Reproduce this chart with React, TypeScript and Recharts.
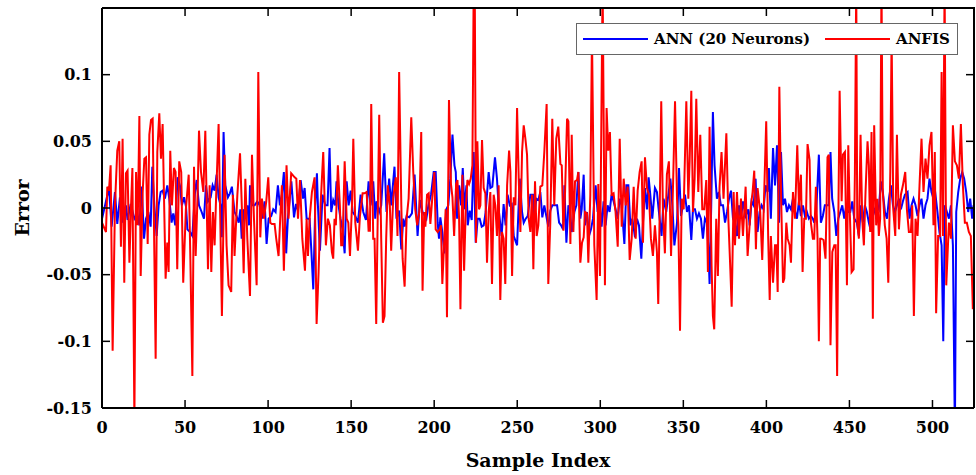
import React from "react";
import { LineChart, Line, XAxis, YAxis, Legend } from "recharts";

// [sample index, error] (turning points only)
const annPoints: [number, number][] = [
  [0, -0.008], [2.4, 0.005], [4.2, 0.015], [5.8, -0.014], [7.8, 0.012], [9.2, -0.012], [10.8, 0.008], [12.4, -0.011],
  [14.4, 0.002], [15.4, -0.009], [17.3, 0.003], [19.5, -0.008], [21.3, -0.004], [22.5, -0.013], [23.9, 0.016], [25.3, -0.023],
  [26.5, -0.008], [27.9, -0.003], [29.3, -0.014], [30.3, 0.031], [31.5, 0.002], [32.9, -0.021], [34.1, 0.002], [35.3, 0.012],
  [36.5, 0.013], [37.9, 0.007], [39.3, 0.017], [40.5, 0.007], [41.9, -0.011], [42.9, -0.004], [44.1, -0.013], [45.5, 0.023],
  [46.9, 0.017], [48.1, 0.002], [49.4, 0.008], [50.6, 0.001], [51.4, -0.016], [53, -0.018], [54.4, -0.021], [56, 0.012],
  [57, 0.021], [58.4, 0.002], [60, -0.003], [61.4, -0.008], [62.6, 0.017], [63.8, 0.005], [65.4, 0.008], [66.6, 0.017],
  [67.8, 0.013], [69, 0.025], [70.2, 0.008], [71.4, 0.002], [72.2, -0.022], [73.2, 0.057], [74.2, 0.017], [75.8, 0.008],
  [77, 0.011], [78.2, 0.016], [79.8, -0.003], [81, -0.006], [82.3, -0.011], [83.3, -0.001], [84.1, -0.023], [85.3, -0.001],
  [86.5, -0.006], [87.5, 0.002], [88.5, -0.013], [89.1, 0.017], [90.3, 0.002], [91.9, 0.002], [93.5, 0.005], [94.9, 0.002],
  [96.3, -0.008], [97.9, 0.005], [99.1, -0.027], [100.3, -0.008], [101.9, -0.006], [103.1, -0.001], [104.5, -0.003], [105.9, 0.017],
  [107.1, 0.002], [108.3, 0.01], [109.5, 0.027], [110.9, -0.034], [111.9, -0.008], [114, 0.02], [115.6, -0.007], [116.8, 0.003],
  [118, -0.002], [119.6, 0.021], [121, 0.007], [122, 0.015], [123.2, -0.008], [125, -0.008], [126, -0.031], [127.2, -0.061],
  [128.4, 0.002], [129.4, 0.026], [130, 0.002], [131.2, -0.032], [132.8, 0.01], [134.4, 0.002], [135.8, 0.002], [137, 0.045],
  [138, -0.003], [139.2, 0.006], [140.4, 0.002], [141.2, 0.02], [142.4, 0.002], [143.6, -0.008], [144.8, -0.016], [146.1, -0.034],
  [147.3, 0.02], [148.5, 0.002], [149.7, 0.013], [150.9, -0.003], [152.5, -0.006], [154.1, -0.011], [155.7, 0.01], [157.3, -0.003],
  [158.9, -0.009], [160.5, 0.02], [161.7, 0.002], [163.3, 0.02], [164.5, -0.008], [165.3, 0.005], [166.9, -0.003], [168.1, 0.002],
  [169.9, 0.041], [171.3, -0.003], [172.9, 0.022], [174.1, 0.002], [176.1, 0.031], [177.3, -0.008], [178.9, -0.002], [180.2, -0.031],
  [181.4, -0.008], [182.2, -0.014], [183.4, -0.006], [185, -0.007], [186.6, -0.004], [188.2, 0.025], [190, -0.021], [191.4, 0.006],
  [193, -0.003], [195.3, -0.008], [196.5, 0.002], [198.1, 0.01], [199.7, 0.027], [200.9, 0.027], [202.1, -0.011], [202.9, -0.023],
  [203.7, -0.007], [204.9, -0.018], [206.1, -0.034], [207.3, -0.001], [208.5, 0.002], [209.7, 0.022], [211, 0.055], [212.2, 0.032],
  [213, 0.027], [213.8, -0.008], [215, 0.017], [216.2, 0.002], [217.2, 0.03], [218.2, -0.001], [219.4, 0.017], [220.2, -0.013],
  [221.4, -0.002], [222.6, -0.009], [223.8, 0.042], [225, -0.026], [226.2, -0.008], [227.4, -0.008], [228.6, -0.014], [229.8, -0.013],
  [231, -0.003], [232.8, 0.027], [233.8, 0.015], [235, 0.016], [236.6, 0.038], [237.8, 0.022], [239, -0.003], [240.6, -0.021],
  [241.8, 0.003], [243, -0.013], [244.2, 0.01], [245.5, 0.002], [246.7, 0.003], [247.9, -0.021], [249.9, -0.028], [251.5, 0.022],
  [252.9, -0.003], [253.9, -0.011], [255.1, -0.008], [256.3, -0.006], [257.9, 0.01], [259.5, 0.01], [260.3, -0.007], [261.5, 0.007],
  [262.7, 0.006], [263.9, 0.012], [265.1, -0.007], [266.3, 0.002], [267.5, -0.006], [268.7, -0.014], [269.9, -0.002], [271.1, 0.002],
  [272.7, 0.002], [274, 0.002], [275.2, -0.011], [276.4, -0.013], [277.6, -0.016], [278.4, 0.017], [279.6, -0.026], [280.8, 0.002],
  [281.8, -0.003], [282.8, -0.018], [284.4, -0.003], [285.6, 0.002], [286.8, 0.027], [288, -0.008], [288.8, -0.001], [290, 0.025],
  [290.8, -0.013], [292, -0.003], [293.2, -0.021], [294.4, -0.016], [295.6, -0.008], [297.2, 0.017], [298.4, -0.003], [299.8, 0.002],
  [300.8, -0.014], [302, 0.005], [303.2, -0.013], [304.4, 0.002], [305.6, -0.003], [306.8, 0.01], [308, 0.005], [309.2, -0.001],
  [310.5, -0.008], [311.7, 0.007], [312.9, 0.002], [314.5, -0.027], [315.7, 0.017], [316.9, 0.017], [318.1, -0.013], [319.3, -0.008],
  [320.9, -0.022], [322.1, -0.008], [323.3, -0.013], [324.7, -0.038], [325.7, -0.011], [326.9, 0.015], [328.1, -0.001], [329.1, 0.023],
  [330.1, 0.01], [331.3, -0.008], [332.9, 0.015], [334.1, 0.012], [335.3, -0.003], [336.9, -0.021], [338.1, 0.007], [339.7, -0.003],
  [341, 0.01], [342.2, 0.022], [343.4, 0.002], [344.6, -0.028], [346.2, -0.011], [347.4, 0.03], [348.6, -0.006], [349.8, 0.002],
  [351, 0.01], [352.2, -0.003], [353.4, 0.002], [354.8, -0.024], [355.8, -0.001], [357, -0.001], [358.2, -0.008], [359.4, -0.004],
  [360.6, -0.008], [361.8, -0.023], [363, -0.008], [364.2, -0.011], [365, -0.028], [365.8, -0.057], [366.8, 0.002], [367.8, 0.072],
  [368.8, 0.032], [370.2, 0.007], [371.4, 0.012], [372.6, 0.002], [373.9, 0.002], [375.1, -0.011], [376.3, -0.003], [377.5, 0.007],
  [378.7, 0.013], [379.9, -0.008], [381.1, -0.011], [382.3, -0.021], [383.5, 0.002], [384.7, -0.008], [385.9, 0.005], [387.5, -0.006],
  [389.1, -0.001], [389.9, -0.013], [391.1, 0.005], [392.3, 0.002], [393.5, 0.022], [394.7, -0.018], [395.9, -0.003], [397.1, 0.002],
  [398.3, -0.001], [399.5, 0.017], [400.7, 0.012], [401.5, 0.03], [402.7, -0.008], [404, 0.045], [405.2, 0.017], [406.4, 0.047],
  [407.6, -0.011], [408.8, 0.042], [410, 0.002], [411.2, 0.007], [412.4, -0.003], [413.6, 0.002], [414.8, -0.001], [416, 0.007],
  [417.2, -0.002], [418.4, -0.008], [419.6, 0.005], [420.8, -0.006], [422, 0.002], [423.2, -0.006], [424.4, -0.003], [425.6, -0.008],
  [426.8, -0.006], [428, -0.008], [428.8, -0.011], [430, -0.003], [431.6, 0.04], [432.8, -0.011], [434, -0.006], [435.2, 0.002],
  [436.4, 0.002], [437.6, 0.002], [438.6, 0.042], [439.6, 0.007], [440.9, -0.003], [442.1, -0.021], [443.3, -0.008], [444.5, -0.003],
  [445.7, 0.002], [446.9, -0.008], [448.1, 0.002], [449.3, -0.003], [450.5, -0.003], [451.7, 0.005], [452.9, -0.008], [454.5, -0.011],
  [455.7, -0.021], [456.9, 0.002], [458.1, -0.011], [459.3, 0.002], [460.5, -0.003], [461.7, -0.011], [462.9, -0.017], [464.1, 0.002],
  [465.3, -0.003], [466.5, 0.002], [467.7, -0.001], [468.9, 0.02], [470.1, 0.012], [471.4, -0.003], [472.6, -0.008], [473.8, 0.007],
  [475, 0.017], [476.2, 0.002], [477.4, -0.003], [478.6, 0.002], [479.8, 0.007], [481, -0.001], [482.2, 0.005], [483.4, 0.01],
  [485, 0.012], [486.2, -0.008], [487.4, 0.002], [488.6, 0.007], [489.8, 0.002], [491, -0.006], [492.2, 0.002], [493.4, 0.007],
  [494.6, -0.008], [495.8, 0.002], [497, 0.007], [498.2, 0.022], [499.4, 0.012], [500.6, 0.007], [501.8, 0.01], [503, -0.003],
  [504.2, -0.018], [505.5, -0.028], [506.5, -0.1], [507.5, 0.002], [508.7, -0.003], [509.9, -0.008], [511.1, 0.002], [512.3, -0.028],
  [513.5, -0.17], [514.3, -0.003], [515.5, 0.012], [516.7, 0.022], [517.9, 0.027], [519.1, 0.022], [520.3, 0.012], [521.5, -0.003],
  [522.7, 0.007], [523.9, -0.008], [524.7, 0.002],
];

const anfisPoints: [number, number][] = [
  [0, -0.011], [2.4, -0.018], [3.2, 0.016], [4.2, 0.013], [5.2, 0.032], [6.4, -0.107], [7.8, 0.002], [9.2, 0.043],
  [10.4, 0.05], [11.4, -0.029], [12.4, 0.052], [13.4, -0.056], [14.4, 0.026], [15.4, 0.028], [16.5, -0.041], [17.5, 0.002],
  [18.3, 0.03], [19.5, -0.16], [20.5, 0.027], [21.5, -0.013], [22.5, 0.069], [23.3, -0.051], [24.5, 0.012], [25.5, 0.037],
  [26.5, 0.038], [27.5, -0.027], [28.5, 0.055], [29.5, 0.066], [30.5, 0.067], [32.3, -0.113], [33.3, 0.042], [34.5, 0.071],
  [35.5, 0.037], [36.5, 0.063], [37.5, -0.003], [38.3, -0.053], [39.3, -0.026], [40.1, -0.048], [41.1, 0.043], [42.1, 0.002],
  [43.3, 0.03], [44.3, 0.027], [45.3, -0.046], [46.5, 0.035], [47.7, 0.027], [48.9, -0.056], [50.5, -0.001], [52.2, 0.025],
  [53.2, -0.038], [54.4, -0.126], [55.4, 0.031], [56.4, -0.036], [57.6, 0.012], [58.4, 0.058], [59.6, 0.027], [61, 0.012],
  [62.2, 0.058], [63.8, -0.046], [64.8, 0.017], [65.8, -0.048], [66.8, -0.003], [67.8, -0.028], [68.8, 0.012], [70.2, 0.063],
  [71.2, -0.008], [72.2, -0.081], [73.8, 0.04], [75, -0.028], [76.2, -0.058], [77.8, -0.063], [78.8, 0.01], [79.8, -0.036],
  [81.5, 0.01], [83.1, 0.041], [84.3, -0.003], [85.3, -0.049], [86.3, 0.022], [87.5, -0.023], [89.1, -0.066], [90.3, 0.04],
  [91.5, -0.008], [93.1, -0.058], [94.1, 0.102], [95.3, -0.022], [96.3, 0.007], [97.5, -0.008], [98.9, 0.005], [100.1, 0.023],
  [101.3, -0.011], [102.3, -0.012], [103.9, -0.012], [104.9, -0.023], [106.3, -0.036], [107.3, -0.008], [108.3, 0.017], [109.5, -0.047],
  [111.1, 0.032], [112.3, -0.008], [113.9, 0.026], [116, 0.023], [117, 0.022], [118, -0.008], [119.2, 0.021], [120.6, -0.023],
  [122.2, -0.047], [123.2, -0.008], [124, -0.036], [125, -0.008], [126.4, 0.012], [128, 0.023], [129.2, -0.087], [130.4, -0.048],
  [131.6, 0.002], [133.2, 0.042], [134.8, -0.028], [136, -0.008], [137.2, -0.013], [138.4, -0.033], [139.2, -0.038], [140, -0.008],
  [140.8, -0.013], [142, 0.032], [143.2, 0.002], [144, -0.028], [144.8, -0.028], [146.1, 0.035], [147.3, -0.008], [148.3, -0.011],
  [149.3, -0.036], [150.5, 0.002], [151.3, 0.052], [152.5, -0.011], [154.1, -0.032], [155.3, -0.006], [156.9, 0.011], [158.1, 0.011],
  [159.3, 0.012], [160.5, -0.017], [161.3, -0.017], [162.1, 0.078], [163.3, -0.023], [164.1, -0.023], [165.1, -0.087], [166.1, 0.002],
  [166.9, 0.07], [168.1, -0.023], [169.1, -0.086], [170.1, -0.081], [171.1, -0.023], [172.1, 0.017], [173.3, 0.002], [174.1, -0.032],
  [175.3, 0.007], [176.9, 0.023], [177.9, -0.021], [178.9, 0.102], [180.2, 0.002], [181, -0.038], [182.2, -0.059], [183.4, -0.008],
  [184.6, 0.007], [186.2, 0.068], [187.4, 0.027], [188.6, -0.001], [189.8, -0.013], [191, -0.003], [192.2, 0.057], [193, -0.062],
  [194, -0.003], [194.7, -0.014], [195.7, 0.01], [196.7, 0.011], [197.7, -0.012], [198.7, 0.005], [200.1, 0.027], [200.9, -0.016],
  [202.1, -0.018], [203.3, -0.016], [204.1, -0.013], [204.9, -0.057], [206.1, -0.023], [206.9, -0.001], [207.7, -0.082], [208.9, 0.081],
  [210.1, 0.018], [211, 0.008], [212, -0.021], [213.2, 0.018], [214, 0.021], [215, -0.008], [215.8, -0.076], [217, 0.025],
  [218, -0.047], [219, -0.001], [220, 0.021], [221, 0.018], [222, 0.022], [223, 0.032], [223.8, 0.17], [224.4, 0.17],
  [225.2, -0.026], [226, 0.05], [227, -0.001], [227.8, 0.002], [228.8, 0.051], [229.8, 0.015], [230.8, 0.011], [231.8, -0.041],
  [232.8, -0.003], [233.8, 0.012], [234.8, -0.057], [235.8, 0.01], [236.8, 0.002], [237.8, -0.021], [238.8, 0.017], [239.8, -0.069],
  [240.8, -0.018], [241.8, -0.023], [242.8, -0.057], [243.9, 0.017], [245.1, 0.043], [245.9, 0.027], [246.9, -0.051], [247.9, 0.008],
  [248.9, 0.002], [249.9, 0.075], [250.9, 0.022], [251.9, -0.018], [252.9, 0.042], [253.9, 0.062], [254.9, 0.052], [255.9, 0.04],
  [256.9, -0.008], [257.9, -0.018], [258.9, 0.01], [259.7, -0.046], [260.7, 0.02], [261.7, -0.021], [262.7, -0.013], [263.9, 0.016],
  [265.1, 0.017], [266.3, 0.042], [267.7, 0.078], [268.7, -0.057], [269.9, -0.011], [271.1, 0.067], [272.3, 0.002], [273.5, 0.052],
  [274.7, 0.061], [276, 0.033], [276.8, 0.032], [277.8, -0.017], [278.8, 0.012], [280, 0.067], [280.8, 0.065], [282, -0.027],
  [282.8, 0.055], [283.8, -0.018], [284.8, 0.02], [286, 0.021], [286.8, 0.027], [288, -0.041], [289, -0.026], [290, -0.022],
  [290.8, -0.003], [292, -0.004], [292.8, -0.041], [294, 0.01], [295, 0.13], [296.4, -0.028], [297.8, -0.069], [298.8, 0.018],
  [299.8, -0.051], [301.4, 0.17], [302.8, -0.058], [303.8, 0.075], [304.8, 0.043], [305.8, 0.057], [306.8, 0.01], [308, 0.011],
  [309.2, -0.003], [310.5, -0.029], [311.7, 0.052], [312.9, -0.014], [314.1, 0.022], [315.3, 0.002], [316.5, 0.016], [317.7, -0.039],
  [318.9, -0.023], [320.1, 0.016], [321.3, -0.023], [322.5, 0.013], [323.7, 0.027], [324.9, 0.035], [325.7, -0.026], [326.9, 0.038],
  [328.1, 0.015], [329.3, 0.01], [330.5, -0.023], [331.7, -0.036], [332.9, -0.013], [334.1, -0.033], [334.9, -0.072], [335.7, -0.008],
  [336.7, 0.08], [337.7, -0.001], [338.9, -0.034], [340.1, 0.025], [341.3, 0.035], [342.6, -0.036], [343.8, 0.017], [345, 0.08],
  [346.2, 0.007], [347, -0.013], [348, -0.092], [349, 0.007], [350.2, -0.001], [351.8, 0.08], [353, 0.007], [353.8, 0.035],
  [354.8, 0.088], [355.8, -0.003], [356.8, 0.022], [357.8, 0.082], [359, 0.012], [360.2, 0.055], [361.4, -0.001], [362.6, -0.001],
  [363.8, 0.021], [364.8, -0.048], [365.8, 0.061], [367, -0.043], [367.8, -0.081], [368.6, -0.091], [369.8, -0.008], [370.8, -0.051],
  [371.8, 0.016], [373, 0.042], [374.2, 0.007], [375.9, 0.056], [377.1, -0.008], [378.3, -0.046], [379.1, -0.074], [380.3, 0.012],
  [381.1, -0.028], [382.3, 0.012], [383.5, -0.023], [384.7, 0.007], [385.9, -0.021], [387.5, 0.016], [388.7, -0.036], [390.7, 0.002],
  [391.7, 0.012], [392.7, 0.028], [393.7, -0.031], [394.7, 0.015], [396.3, -0.003], [397.5, -0.039], [398.7, 0.012], [399.9, 0.065],
  [401.1, -0.023], [402, -0.069], [402.7, -0.021], [404, -0.056], [405.2, -0.028], [406, -0.028], [406.8, -0.063], [407.8, 0.091],
  [408.8, 0.012], [410, -0.056], [410.8, -0.053], [412, -0.011], [412.8, -0.023], [414, -0.028], [414.8, -0.041], [416, 0.012],
  [417.2, -0.008], [418.6, 0.047], [419.6, 0.002], [420.8, 0.025], [421.8, -0.048], [422.8, -0.008], [423.8, -0.008], [424.8, 0.048],
  [426, 0.036], [426.8, -0.011], [428, -0.023], [428.8, -0.023], [429.8, 0.016], [430.8, -0.023], [431.6, -0.1], [432.4, -0.023],
  [433.2, -0.023], [434.4, -0.024], [435.6, -0.038], [436.8, 0.038], [437.6, 0.04], [438.6, -0.103], [439.7, -0.033], [440.9, -0.028],
  [441.7, -0.028], [442.6, -0.126], [443.3, -0.011], [444.1, 0.088], [445.3, 0.005], [446.1, 0.04], [447.3, 0.042], [448.5, -0.058],
  [449.3, 0.047], [450.1, 0.002], [451.3, -0.048], [452.5, -0.046], [453.3, 0.027], [454.1, 0.17], [454.7, -0.011], [455.7, -0.023],
  [456.7, 0.055], [457.7, -0.008], [458.7, -0.028], [459.7, 0.012], [460.9, 0.05], [461.7, 0.032], [462.5, -0.018], [463.3, 0.057],
  [464.1, -0.083], [464.9, 0.062], [466.1, -0.013], [466.9, 0.007], [467.7, -0.021], [468.5, -0.008], [469.3, 0.17], [470.1, 0.012],
  [471.3, -0.013], [472.4, -0.023], [473.4, -0.056], [474.6, 0.027], [475.4, 0.13], [476.4, -0.001], [477.6, -0.021], [478.6, 0.055],
  [479.8, -0.016], [481, 0.01], [482.2, 0.017], [483.6, 0.027], [484.6, -0.001], [485.8, -0.018], [487, -0.018], [487.8, 0.002],
  [488.8, -0.081], [489.8, -0.008], [491, -0.021], [492.2, 0.017], [493.4, 0.052], [494.6, 0.012], [495.8, 0.037], [497, 0.022],
  [498.2, 0.047], [499.4, 0.057], [500.6, -0.013], [501.4, 0.042], [502.2, -0.079], [503.4, -0.021], [504.6, -0.021], [505.5, 0.102],
  [506.3, -0.021], [507.3, 0.17], [508.3, -0.058], [509.9, -0.011], [511.1, -0.023], [512.3, 0.062], [513.5, 0.035], [514.7, 0.032],
  [515.9, 0.022], [517.1, 0.063], [518.3, 0.017], [519.5, -0.011], [520.7, -0.011], [521.9, -0.018], [523.1, -0.021], [524.3, -0.076],
];

const seriesNames = ["ANN (20 Neurons)", "ANFIS"];
const xDomain: [number, number] = [0, 525];
const yDomain: [number, number] = [-0.15, 0.15];
const xTicks = [0, 50, 100, 150, 200, 250, 300, 350, 400, 450, 500];
const yTicks = [-0.15, -0.1, -0.05, 0, 0.05, 0.1];

const annData = annPoints.map(([x, y]) => ({ x, y }));
const anfisData = anfisPoints.map(([x, y]) => ({ x, y }));

// plot box inside the 976x475 chart
const PLOT = { left: 102, top: 8, width: 872, height: 400 };

const FONT = "'DejaVu Serif', 'Liberation Serif', serif";
const tickStyle = { fill: "#000", fontSize: 16, fontWeight: 700, fontFamily: FONT };
const axisLineStyle = { stroke: "#000", strokeWidth: 2 };
const tickLineStyle = { stroke: "#000", strokeWidth: 1.5 };

const LegendBox = ({ payload }: any) => {
  const items = (payload || [])
    .filter((p: any) => seriesNames.includes(p.value))
    .sort((a: any, b: any) => seriesNames.indexOf(a.value) - seriesNames.indexOf(b.value));
  return (
    <div
      style={{
        boxSizing: "border-box",
        width: 382,
        height: 32,
        border: "1.5px solid #666",
        background: "#fff",
        display: "flex",
        alignItems: "center",
        paddingLeft: 6,
        fontFamily: FONT,
        fontWeight: 700,
        fontSize: 15,
        color: "#000",
      }}
    >
      {items.map((p: any, i: number) => (
        <div key={i} style={{ display: "flex", alignItems: "center", marginRight: i === 0 ? 15 : 0 }}>
          <span style={{ display: "inline-block", width: 65, height: 2, background: p.color, marginRight: 6 }} />
          <span>{p.value}</span>
        </div>
      ))}
    </div>
  );
};

// x-axis title plus the top and right sides of the box (inward ticks), drawn
// inside the chart svg from the axis viewBox
const XTitleAndFrame = ({ viewBox }: any) => {
  const left = viewBox.x;
  const right = viewBox.x + viewBox.width;
  const bottom = viewBox.y;
  const top = bottom - PLOT.height;
  const fx = (v: number) => left + ((v - xDomain[0]) / (xDomain[1] - xDomain[0])) * viewBox.width;
  const fy = (v: number) => top + ((yDomain[1] - v) / (yDomain[1] - yDomain[0])) * PLOT.height;
  return (
    <g>
      <line x1={left} y1={top} x2={right + 1} y2={top} stroke="#000" strokeWidth={2} />
      <line x1={right} y1={top} x2={right} y2={bottom} stroke="#000" strokeWidth={2} />
      {xTicks.map((t) => (
        <line key={`x${t}`} x1={fx(t)} y1={top} x2={fx(t)} y2={top + 8} stroke="#000" strokeWidth={1.5} />
      ))}
      {yTicks.map((t) => (
        <line key={`y${t}`} x1={right} y1={fy(t)} x2={right - 8} y2={fy(t)} stroke="#000" strokeWidth={1.5} />
      ))}
      <text
        x={left + viewBox.width / 2}
        y={bottom + 59}
        textAnchor="middle"
        fontFamily={FONT}
        fontWeight={700}
        fontSize={19}
        fill="#000"
      >
        Sample Index
      </text>
    </g>
  );
};

export default function App() {
  return (
    <div style={{ position: "absolute", left: 0, top: 0, width: 976, height: 475, background: "#fff", overflow: "hidden" }}>
      <LineChart width={976} height={475} margin={{ top: PLOT.top, right: 976 - PLOT.left - PLOT.width, left: 0, bottom: 0 }}>
        <XAxis
          dataKey="x"
          type="number"
          domain={xDomain}
          ticks={xTicks}
          allowDataOverflow
          height={475 - PLOT.top - PLOT.height}
          axisLine={axisLineStyle}
          tickLine={tickLineStyle}
          tickSize={-8}
          tickMargin={22}
          tick={tickStyle}
          label={{ content: (props: any) => <XTitleAndFrame {...props} /> }}
        />
        <YAxis
          type="number"
          domain={yDomain}
          ticks={yTicks}
          allowDataOverflow
          width={PLOT.left}
          axisLine={axisLineStyle}
          tickLine={tickLineStyle}
          tickSize={-8}
          tickMargin={18}
          tick={tickStyle}
          label={{
            content: ({ viewBox }: any) => {
              const cx = 22;
              const cy = viewBox.y + viewBox.height / 2;
              return (
                <text
                  x={cx}
                  y={cy}
                  transform={`rotate(-90 ${cx} ${cy})`}
                  textAnchor="middle"
                  dominantBaseline="central"
                  fontFamily={FONT}
                  fontWeight={700}
                  fontSize={19}
                  fill="#000"
                >
                  Error
                </text>
              );
            },
          }}
        />
        <Legend
          layout="horizontal"
          verticalAlign="middle"
          align="center"
          content={<LegendBox />}
          wrapperStyle={{ position: "absolute", left: 576, top: 23, width: 382, height: 32, zIndex: 6 }}
        />
        <Line
          data={annData}
          dataKey="y"
          name="ANN (20 Neurons)"
          type="linear"
          stroke="#0000ff"
          strokeWidth={2}
          dot={false}
          isAnimationActive={false}
        />
        <Line
          data={anfisData}
          dataKey="y"
          name="ANFIS"
          type="linear"
          stroke="#ff0000"
          strokeWidth={2}
          dot={false}
          isAnimationActive={false}
        />
      </LineChart>
    </div>
  );
}
